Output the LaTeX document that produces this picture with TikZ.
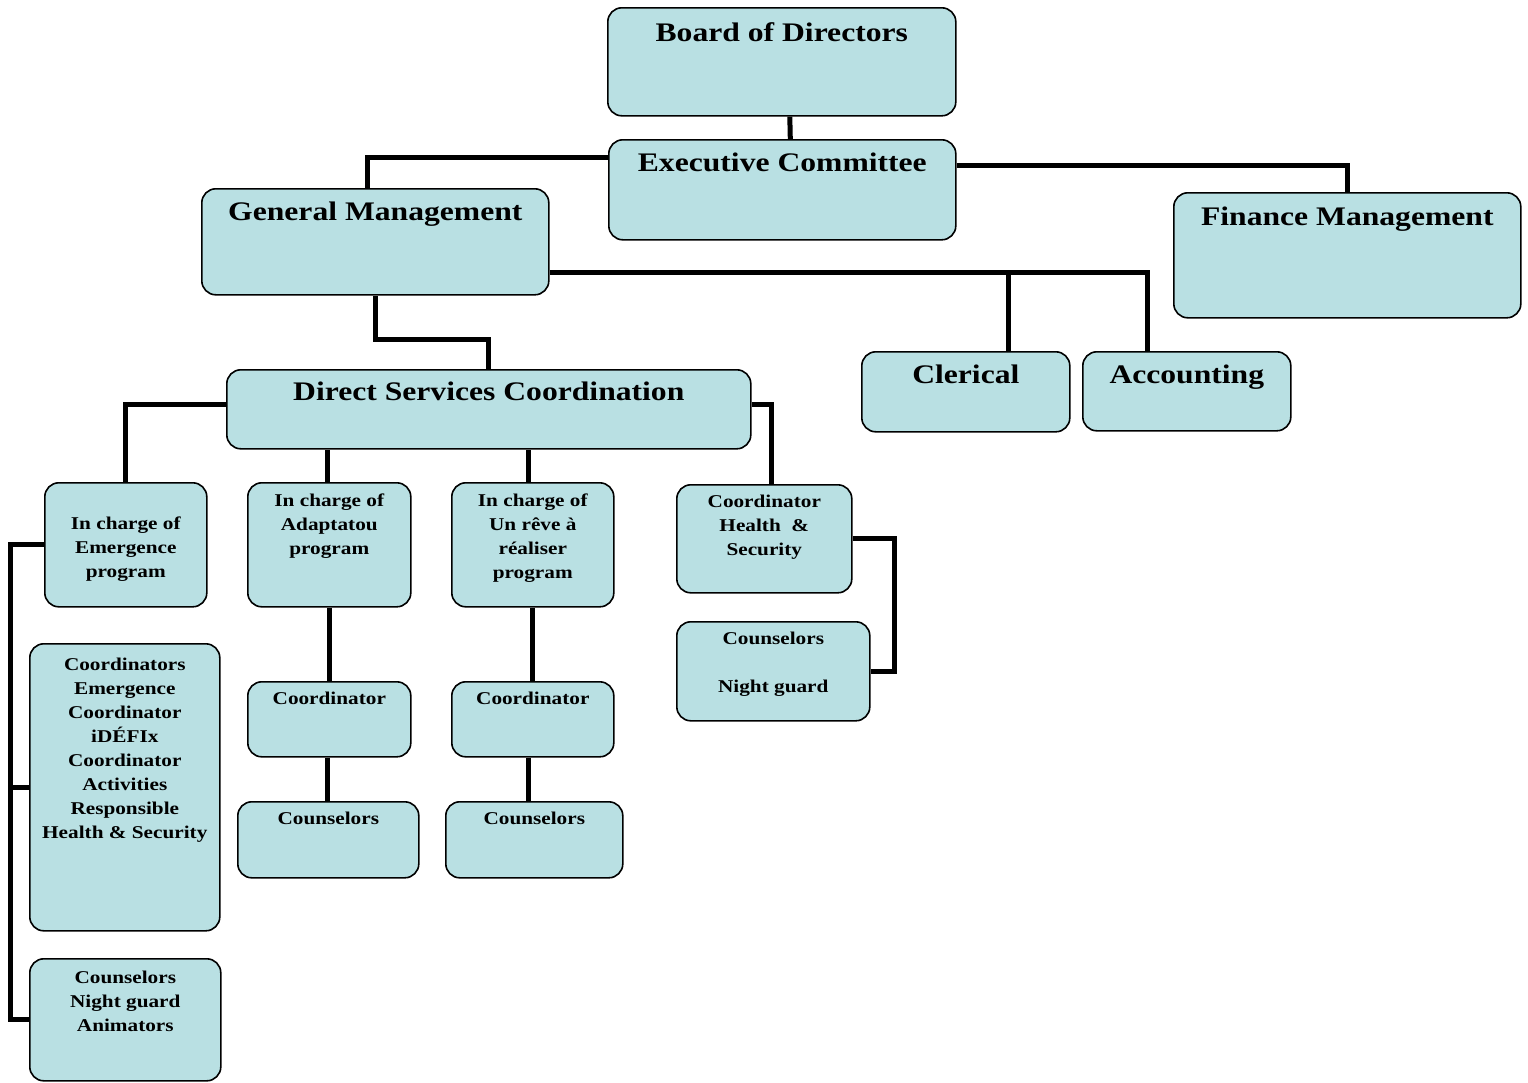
\documentclass[tikz,border=0pt]{standalone}
\usepackage{fontspec}
\setmainfont[FakeStretch=1.18]{Liberation Serif}
\definecolor{boxc}{RGB}{185,224,227}
\tikzset{
  box/.style={draw=black, line width=1.6pt, rounded corners=14pt, fill=boxc, anchor=north west, inner sep=0pt},
  big/.style={font=\fontsize{26.8}{30}\selectfont\bfseries, inner sep=0pt, anchor=north, align=center},
  small/.style={font=\fontsize{18}{24}\selectfont\bfseries, inner sep=0pt, anchor=north, align=center},
  conn/.style={draw=black, line width=5pt}
}
\begin{document}
\begin{tikzpicture}[x=1pt,y=-1pt]
\useasboundingbox (0,0) rectangle (1528,1082);
% boxes
\node[box, minimum width=348, minimum height=108, label={[big,yshift=-15]north:Board of Directors}] (bod) at (607,7) {};
\node[box, minimum width=347, minimum height=100, label={[big,yshift=-14]north:Executive Committee}] (exec) at (608,139) {};
\node[box, minimum width=347, minimum height=106, label={[big,yshift=-14]north:General Management}] (gm) at (201,188) {};
\node[box, minimum width=347, minimum height=125, label={[big,yshift=-15]north:Finance Management}] (fin) at (1173,192) {};
\node[box, minimum width=524, minimum height=79, label={[big,yshift=-13]north:Direct Services Coordination}] (dsc) at (226,369) {};
\node[box, minimum width=208, minimum height=80, label={[big,yshift=-14]north:Clerical}] (cler) at (861,351) {};
\node[box, minimum width=208, minimum height=79, label={[big,yshift=-14]north:Accounting}] (acc) at (1082,351) {};
\node[box, minimum width=162, minimum height=124, label={[small,yshift=-35]north:In charge of\\Emergence\\program}] (em) at (44,482) {};
\node[box, minimum width=163, minimum height=124, label={[small,yshift=-12]north:In charge of\\Adaptatou\\program}] (ad) at (247,482) {};
\node[box, minimum width=162, minimum height=124, label={[small,yshift=-12]north:In charge of\\Un rêve à\\réaliser\\program}] (ur) at (451,482) {};
\node[box, minimum width=175, minimum height=108, label={[small,yshift=-11]north:Coordinator\\Health\ \ \&\\Security}] (hs) at (676,484) {};
\node[box, minimum width=193, minimum height=99, label={[small,yshift=-11]north:Counselors\\[24pt]Night guard}] (cn) at (676,621) {};
\node[box, minimum width=190, minimum height=287, label={[small,yshift=-15]north:Coordinators\\Emergence\\Coordinator\\iDÉFIx\\Coordinator\\Activities\\Responsible\\Health \& Security}] (co1) at (29,643) {};
\node[box, minimum width=191, minimum height=122, label={[small,yshift=-13]north:Counselors\\Night guard\\Animators}] (co2) at (29,958) {};
\node[box, minimum width=163, minimum height=75, label={[small,yshift=-11]north:Coordinator}] (adc) at (247,681) {};
\node[box, minimum width=162, minimum height=75, label={[small,yshift=-11]north:Coordinator}] (urc) at (451,681) {};
\node[box, minimum width=181, minimum height=76, label={[small,yshift=-11]north:Counselors}] (adco) at (237,801) {};
\node[box, minimum width=177, minimum height=76, label={[small,yshift=-11]north:Counselors}] (urco) at (445,801) {};
% connectors
\draw[conn] ([xshift=8]bod.south) -- ([xshift=8]exec.north);
\draw[conn] ([yshift=-18]exec.north west) -| ([xshift=-7.5]gm.north);
\draw[conn] ([yshift=-26]exec.north east) -| (fin.north);
\coordinate (j) at ([yshift=23]gm.south east);
\draw[conn] (j) -| ([xshift=-39]acc.north);
\draw[conn] ([xshift=43]cler.north) -- ([xshift=43]cler.north |- j);
\draw[conn] (gm.south) -- ++(0,44) -| (dsc.north);
\draw[conn] ([yshift=-35]dsc.north west) -| (em.north);
\draw[conn] ([yshift=-35]dsc.north east) -| ([xshift=7.5]hs.north);
\draw[conn] ([xshift=-2]ad.north) -- ([xshift=-2]ad.north |- dsc.south);
\draw[conn] ([xshift=-4]ur.north) -- ([xshift=-4]ur.north |- dsc.south);
\draw[conn] (ad.south) -- (adc.north);
\draw[conn] ([xshift=-2]adc.south) -- ([xshift=-2]adc.south |- adco.north);
\draw[conn] (ur.south) -- (urc.north);
\draw[conn] ([xshift=-4]urc.south) -- ([xshift=-4]urc.south |- urco.north);
\draw[conn] (em.west) -- ++(-34,0) coordinate (l1) |- (co2.west);
\draw[conn] (co1.west) -- (co1.west -| l1);
\draw[conn] (hs.east) -- ++(42,0) |- (cn.east);
\end{tikzpicture}
\end{document}
